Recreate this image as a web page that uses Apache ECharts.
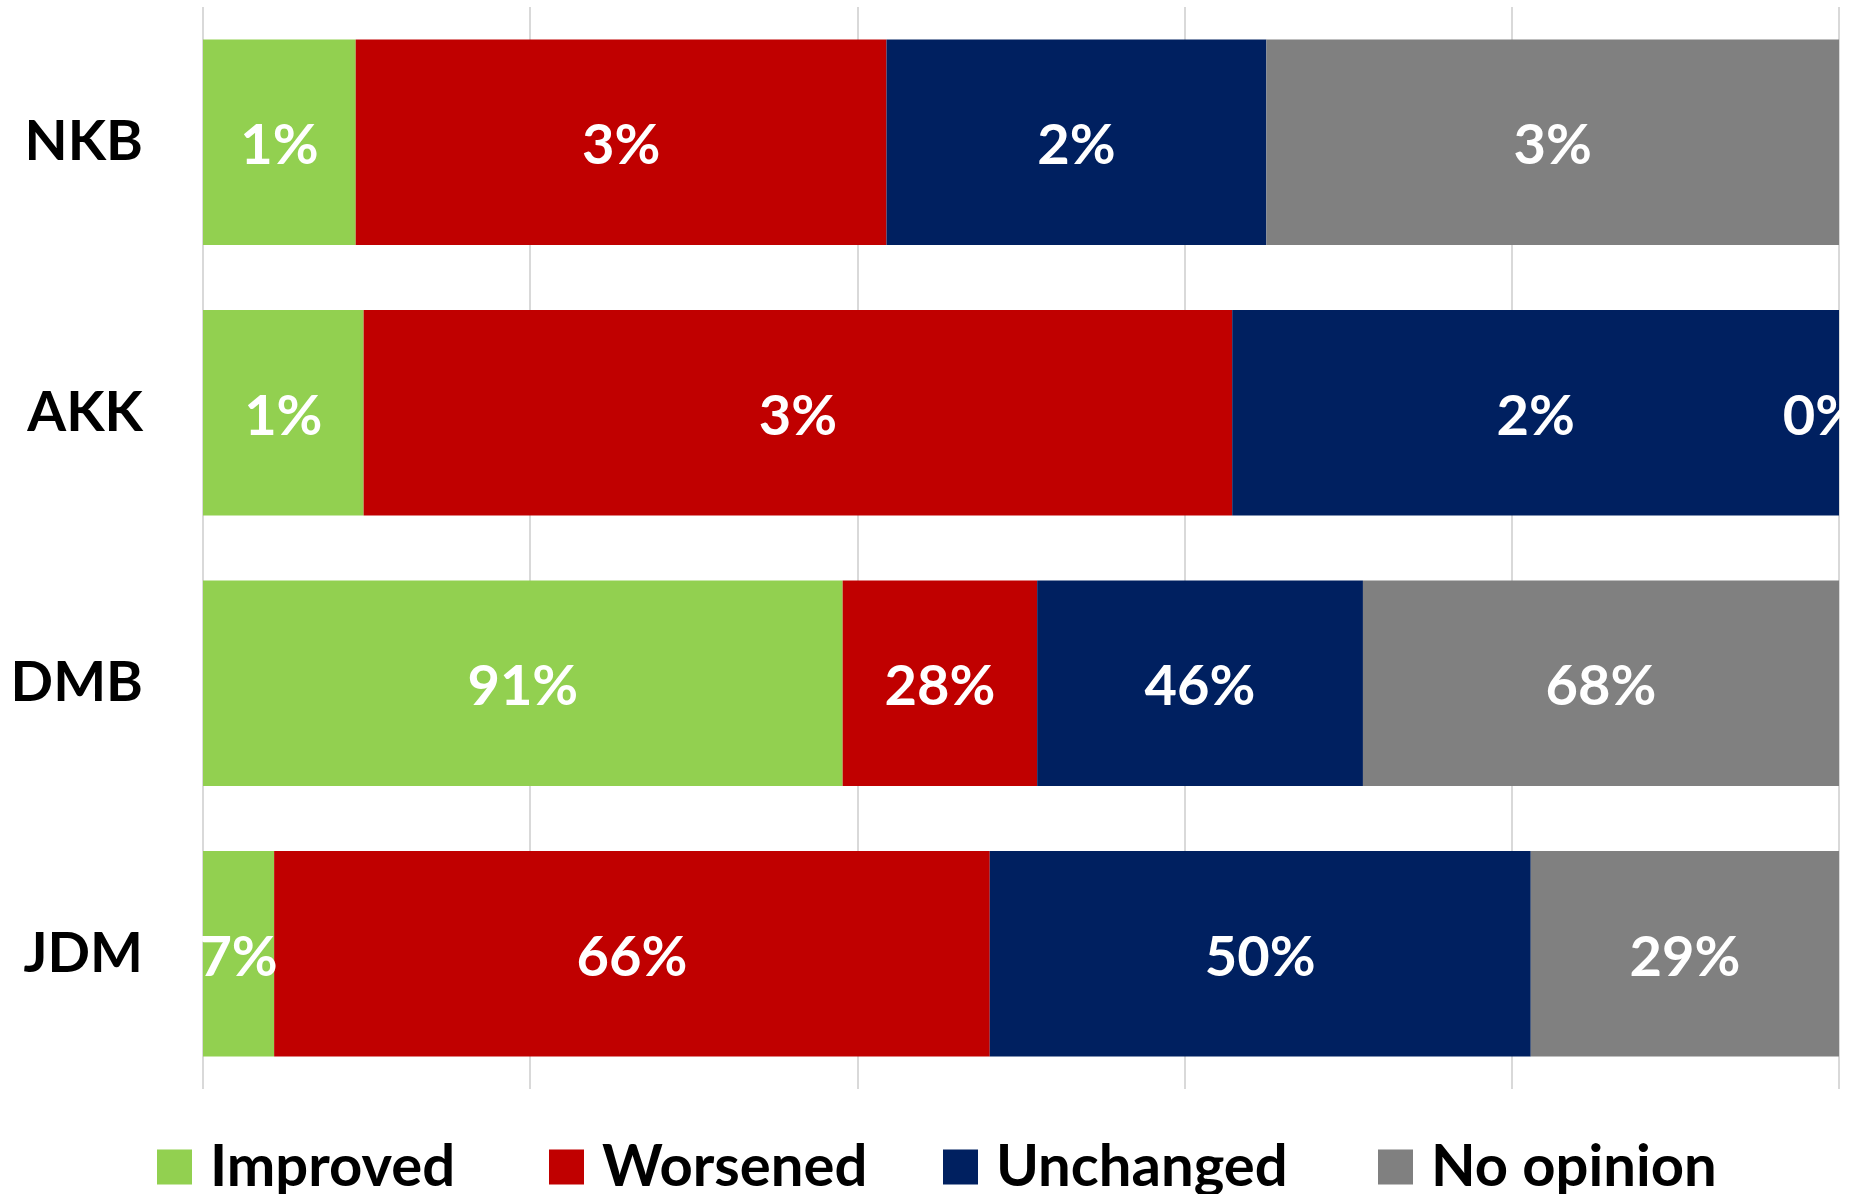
<!DOCTYPE html>
<html>
<head>
<meta charset="utf-8">
<script src="https://cdn.jsdelivr.net/npm/echarts@6/dist/echarts.min.js"></script>
<style>
  html, body { margin: 0; padding: 0; background: #ffffff; }
  #chart { width: 1840px; height: 1194px; overflow: hidden; }
</style>
</head>
<body>
<div id="chart"></div>
<script>
// Banks shown on the category axis, top to bottom
const categories = ['NKB', 'AKK', 'DMB', 'JDM'];

// Share of each response that falls to each bank, in percent
const improved  = [0.84, 0.54, 91.1, 6.6];
const worsened  = [2.92, 2.92, 27.7, 66.4];
const unchanged = [2.09, 2.04, 46.4, 50.2];
const noOpinion = [3.15, 0, 67.8, 28.6];

const seriesNames  = ['Improved', 'Worsened', 'Unchanged', 'No opinion'];
const seriesColors = ['#92d050', '#c00000', '#002060', '#808080'];

const FONT = 'Lato, "Open Sans", sans-serif';
const seriesValues = [improved, worsened, unchanged, noOpinion];

// Each bar is stacked to 100 % of its bank's total
const rowTotals = categories.map((_, i) =>
  seriesValues.reduce((s, arr) => s + arr[i], 0));

const legendLeft = [152, 544, 938, 1373];

const chart = echarts.init(document.getElementById('chart'), null, { renderer: 'canvas' });

chart.setOption({
  animation: false,
  backgroundColor: '#ffffff',
  grid: { left: 203, right: 1, top: 7, bottom: 105, containLabel: false },
  xAxis: {
    type: 'value',
    min: 0,
    max: 100,
    interval: 20,
    axisLine: { show: false },
    axisTick: { show: false },
    axisLabel: { show: false },
    splitLine: { show: true, lineStyle: { color: '#d9d9d9', width: 2 } }
  },
  yAxis: {
    type: 'category',
    data: categories,
    inverse: true,
    axisLine: { show: false },
    axisTick: { show: false },
    axisLabel: {
      margin: 60,
      color: '#000000',
      fontFamily: FONT,
      fontWeight: 'bold',
      fontSize: 56
    }
  },
  legend: seriesNames.map((name, i) => ({
    data: [name],
    left: legendLeft[i],
    top: 1133,
    icon: 'rect',
    itemWidth: 35,
    itemHeight: 35,
    selectedMode: false,
    textStyle: {
      color: '#000000',
      fontFamily: FONT,
      fontWeight: 'bold',
      fontSize: 58,
      padding: [0, 0, 0, 13]
    }
  })),
  series: seriesNames.map((name, s) => ({
    name: name,
    type: 'bar',
    stack: 'total',
    barCategoryGap: '24%',
    itemStyle: { color: seriesColors[s] },
    label: {
      show: true,
      position: 'inside',
      offset: [0, 4],
      color: '#ffffff',
      fontFamily: FONT,
      fontWeight: 'bold',
      fontSize: 56,
      formatter: p => Math.round(p.data.pct) + '%'
    },
    data: seriesValues[s].map((v, i) => {
      const item = { value: v / rowTotals[i] * 100, pct: v };
      if (v === 0) item.label = { offset: [-17, 4] };
      return item;
    })
  }))
});
</script>
</body>
</html>
